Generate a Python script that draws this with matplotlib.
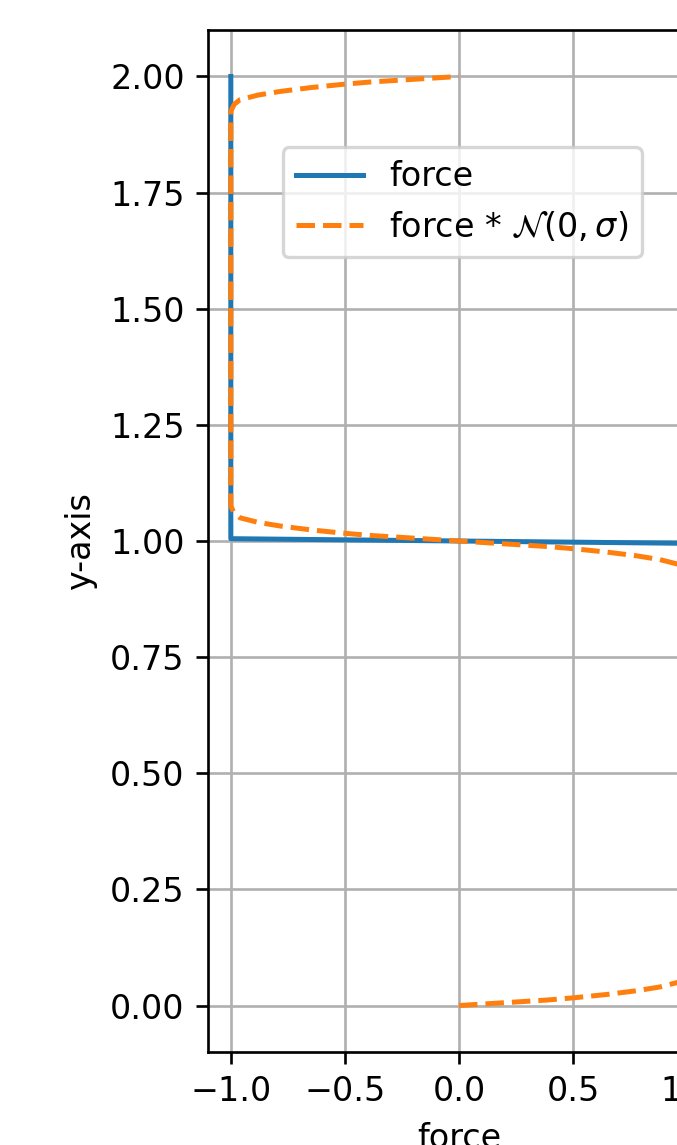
import numpy as np
import matplotlib
matplotlib.use('Agg')
import matplotlib.pyplot as plt

# step force: -1 above y=1, +1 below
force_x = [1.0, 1.0, -1.0, -1.0]
force_y = [0.0, 0.995, 1.005, 2.0]

# force smoothed with a gaussian kernel
smooth_y = [0.000, 0.004, 0.008, 0.012, 0.017, 0.024, 0.032, 0.040, 0.050, 0.060, 0.075,
            0.925, 0.940, 0.950, 0.960, 0.968, 0.976, 0.983, 0.988, 0.992, 0.996,
            1.000,
            1.004, 1.008, 1.012, 1.017, 1.024, 1.032, 1.040, 1.050, 1.060, 1.075,
            1.925, 1.940, 1.950, 1.960, 1.968, 1.976, 1.983, 1.988, 1.992, 1.996, 2.000]
smooth_x = [0.00, 0.13, 0.26, 0.39, 0.51, 0.65, 0.78, 0.88, 0.96, 0.985, 1.00,
            1.00, 0.985, 0.96, 0.88, 0.78, 0.65, 0.51, 0.39, 0.26, 0.13,
            0.00,
            -0.13, -0.26, -0.39, -0.51, -0.65, -0.78, -0.88, -0.96, -0.985, -1.00,
            -1.00, -0.985, -0.96, -0.88, -0.78, -0.65, -0.51, -0.39, -0.26, -0.13, 0.00]

DPI = 240
fig = plt.figure(figsize=(677 / DPI, 1145 / DPI), dpi=DPI)
# axes runs past the right edge of the canvas
ax = fig.add_axes([208 / 677, 93 / 1145, 502 / 677, 1022 / 1145])

ax.plot(force_x, force_y, '-', label='force')
ax.plot(smooth_x, smooth_y, '--', label=r'force * $\mathcal{N}(0, \sigma)$')

ax.set_xlim(-1.1, 1.1)
ax.set_ylim(-0.1, 2.1)
ax.set_xticks([-1.0, -0.5, 0.0, 0.5, 1.0])
ax.set_xlabel('force')
ax.set_ylabel('y-axis')
ax.grid(True)
ax.legend(loc='upper left', bbox_to_anchor=(0.149, 0.8855), borderaxespad=0)

fig.savefig('out.png', dpi=DPI)
